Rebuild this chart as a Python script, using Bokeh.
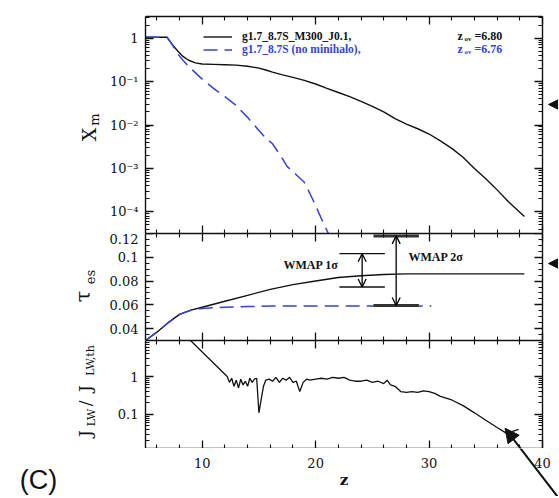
import math
from bokeh.plotting import figure
from bokeh.layouts import column, row
from bokeh.models import (Range1d, LinearAxis, LogAxis, FixedTicker, Label, Arrow,
                          NormalHead, OpenHead, Legend, LegendItem)
from bokeh.embed import file_html
from bokeh.resources import INLINE

# ---------------- data ----------------
z_xm_black = [5.0, 6.9, 7.3, 7.8, 8.3, 8.8, 9.4, 10, 11, 12, 13, 14, 15, 15.6, 16.2, 17, 18, 19,
              20, 21, 22, 23, 24, 25, 26, 27, 28, 29, 30, 31, 32, 33, 34, 35, 36, 37, 38.4]
xm_black = [1.05, 1.05, 0.75, 0.52, 0.38, 0.31, 0.27, 0.255, 0.25, 0.245, 0.24, 0.225, 0.205,
            0.185, 0.165, 0.145, 0.125, 0.107, 0.088, 0.07, 0.056, 0.045, 0.035, 0.027, 0.02,
            0.014, 0.0105, 0.0082, 0.0062, 0.0043, 0.0029, 0.0018, 0.0010, 5.8e-4, 3.2e-4,
            1.7e-4, 7.8e-5]
z_xm_blue = [5.0, 6.9, 7.3, 7.8, 8.3, 9.0, 9.9, 11, 12, 13, 14, 15, 15.6, 16.2, 17, 17.5, 18.2,
             19, 19.8, 20.5, 21.3]
xm_blue = [1.05, 1.05, 0.75, 0.45, 0.31, 0.2, 0.12, 0.07, 0.045, 0.028, 0.015, 0.0075, 0.005,
           0.0037, 0.0018, 0.0011, 7.5e-4, 4.8e-4, 1.8e-4, 7e-5, 2.5e-5]

z_tau_black = [5, 6, 7, 8, 9, 10, 12, 14, 16, 18, 20, 22, 24, 26, 28, 30, 34, 38.4]
tau_black = [0.030, 0.037, 0.045, 0.052, 0.0555, 0.058, 0.063, 0.068, 0.073, 0.077, 0.080,
             0.083, 0.0845, 0.0855, 0.086, 0.086, 0.086, 0.086]
z_tau_blue = [5, 6, 7, 8, 9, 10, 12, 14, 16, 20, 30.2]
tau_blue = [0.030, 0.037, 0.045, 0.052, 0.0555, 0.057, 0.058, 0.0585, 0.059, 0.059, 0.059]

z_jlw = [8.8, 12.2, 12.4, 12.6, 12.8, 13.0, 13.2, 13.4, 13.6, 13.8, 14.0, 14.2, 14.4, 14.6,
         14.8, 15.0, 15.2, 15.4, 15.6, 15.9, 16.2, 16.5, 16.8, 17.1, 17.4, 17.7, 18.0, 18.3,
         18.6, 18.9, 19.2, 19.5, 20, 20.5, 21, 21.5, 22, 22.5, 23, 23.5, 24, 24.5, 25, 25.5,
         26, 26.3, 26.6, 27, 27.5, 28, 28.5, 29, 29.5, 30, 30.5, 31, 32, 33, 34, 35, 36, 36.8,
         37.3, 37.9]
jlw = [10, 1.0, 0.7, 0.9, 0.55, 0.8, 0.5, 0.85, 0.6, 0.75, 0.55, 0.9, 0.7, 0.85, 0.9, 0.11,
       0.25, 0.55, 0.8, 0.85, 0.75, 0.95, 0.7, 0.9, 0.8, 0.95, 0.7, 0.75, 0.4, 0.7, 0.85, 0.8,
       0.85, 0.9, 0.85, 0.95, 0.9, 0.95, 0.8, 0.75, 0.75, 0.8, 0.7, 0.75, 0.65, 0.8, 0.6, 0.55,
       0.4, 0.38, 0.4, 0.38, 0.42, 0.4, 0.36, 0.3, 0.24, 0.17, 0.11, 0.07, 0.045, 0.032, 0.035,
       0.04]

# WMAP constraints on tau_es
wmap1_z = [22.1, 26.1]
wmap1_tau = [0.075, 0.103]
wmap1_arrow_z = 24.1
wmap2_z = [25.1, 29.1]
wmap2_tau = [0.0595, 0.118]
wmap2_arrow_z = 27.1

# pointer arrow in the lower panel: tip and tail (z, J_LW/J_LW,th)
ptr_tip = (36.7, 0.043)
ptr_tail = (43.0, 1.5e-4)

x_major = [10, 20, 30, 40]
x_minor = [6, 8, 12, 14, 16, 18, 22, 24, 26, 28, 32, 34, 36, 38]
xm_major = [1e-4, 1e-3, 1e-2, 1e-1, 1]
xm_labels = {1e-4: "10\u207b\u2074", 1e-3: "10\u207b\u00b3", 1e-2: "10\u207b\u00b2",
             1e-1: "10\u207b\u00b9", 1: "1"}
tau_major = [0.04, 0.06, 0.08, 0.1, 0.12]
tau_labels = {0.04: "0.04", 0.06: "0.06", 0.08: "0.08", 0.1: "0.1", 0.12: "0.12"}
j_major = [0.1, 1]
j_labels = {0.1: "0.1", 1: "1"}

legend_black = "g1.7_8.7S_M300_J0.1,"
legend_blue = "g1.7_8.7S (no minihalo),"
zov_black = "=6.80"
zov_blue = "=6.76"

BLUE = "#3443d4"
INK = "#111111"
SERIF = "DejaVu Serif"
LSERIF = "Liberation Serif"

def log_minors(lo, hi):
    out = []
    for e in range(lo, hi):
        for m in range(2, 10):
            out.append(m * 10.0 ** e)
    return out

xm_minor = log_minors(-5, 1)
tau_minor = [round(0.03 + 0.005 * i, 4) for i in range(19)]
j_minor = log_minors(-2, 1)

# ---------------- layout geometry (pixels) ----------------
XR = Range1d(5, 40)
FW = 397            # frame width of the three panels
BL, BR = 40, 2      # left / right borders of the panels
LEFT_W = 105        # strip for the axis titles
RIGHT_W = 14        # strip for the pointer arrows
TOP = 16
H1, H2, H3 = 217, 107, 108
BOT_H = 48
TOTAL_H = TOP + H1 + H2 + H3 + BOT_H
KX = FW / (XR.end - XR.start)   # px per unit of z


def style_axis(ax, labels, ticks):
    ax.axis_line_width = 1.4
    ax.axis_line_color = INK
    ax.major_tick_in = 8
    ax.major_tick_out = 0
    ax.minor_tick_in = 4
    ax.minor_tick_out = 0
    ax.major_tick_line_width = 1.3
    ax.minor_tick_line_width = 1.1
    ax.major_tick_line_color = INK
    ax.minor_tick_line_color = INK
    if labels:
        ax.major_label_text_font = SERIF
        ax.major_label_text_font_size = "13px"
        ax.major_label_text_color = INK
        ax.major_label_standoff = 7
    else:
        ax.major_label_overrides = {t: "" for t in ticks}
        ax.major_label_text_font_size = "1px"
        ax.major_label_standoff = -6


def make_fig(yr, ytype, fh, bt, yticks, yminor, overrides):
    p = figure(frame_width=FW, frame_height=fh, x_range=XR, y_range=yr, y_axis_type=ytype,
               x_axis_location=None, y_axis_location=None, output_backend="svg",
               toolbar_location=None, min_border_left=BL, min_border_right=BR,
               min_border_top=bt, min_border_bottom=0)
    p.xgrid.visible = False
    p.ygrid.visible = False
    p.outline_line_color = None
    AxisY = LogAxis if ytype == "log" else LinearAxis
    for loc in ("below", "above"):
        ax = LinearAxis(ticker=FixedTicker(ticks=x_major, minor_ticks=x_minor))
        style_axis(ax, False, x_major)
        p.add_layout(ax, loc)
    for loc in ("left", "right"):
        ax = AxisY(ticker=FixedTicker(ticks=yticks, minor_ticks=yminor))
        style_axis(ax, loc == "left", yticks)
        if loc == "left":
            ax.major_label_overrides = overrides
        p.add_layout(ax, loc)
    return p


def lab(p, text, x, y, size, dx=0, dy=0, angle=0, color=INK, font=SERIF, style="normal",
        align="center"):
    p.add_layout(Label(x=x, y=y, x_offset=dx, y_offset=dy, text=text, angle=angle,
                       angle_units="deg", text_font=font, text_font_size=size,
                       text_font_style=style, text_color=color, text_align=align,
                       text_baseline="middle"))


def strip(w, h, xr=None):
    # blank figure whose frame fills it; y counts pixels downward from its top
    s = figure(width=w, height=h, x_range=xr or Range1d(0, w), y_range=Range1d(h, 0),
               output_backend="svg", toolbar_location=None, min_border=0,
               x_axis_location=None, y_axis_location=None)
    s.xgrid.visible = False
    s.ygrid.visible = False
    s.outline_line_color = None
    return s

# ---------------- top panel: x_m ----------------
p1 = make_fig(Range1d(10 ** -4.5, 10 ** 0.5), "log", H1, TOP, xm_major, xm_minor, xm_labels)
r_blk = p1.line(z_xm_black, xm_black, line_color=INK, line_width=1.4)
r_blu = p1.line(z_xm_blue, xm_blue, line_color=BLUE, line_width=1.5, line_dash="14 7")

for items, color, ybot in (([LegendItem(label=legend_black, renderers=[r_blk])], INK, 190.5),
                           ([LegendItem(label=legend_blue, renderers=[r_blu])], BLUE, 177.5)):
    lg = Legend(items=items, location=(58, ybot), background_fill_alpha=0,
                border_line_color=None, padding=0, margin=0, glyph_width=29, glyph_height=13,
                label_standoff=10, label_height=13, spacing=0, label_text_font=LSERIF,
                label_text_font_style="bold", label_text_font_size="11.5px",
                label_text_color=color)
    p1.add_layout(lg)

for dy, color, txt in ((2, INK, zov_black), (-11, BLUE, zov_blue)):
    lab(p1, "z", 5, 1, "12px", dx=312, dy=dy, color=color, font=LSERIF, style="bold", align="left")
    lab(p1, "ov", 5, 1, "7px", dx=319, dy=dy - 3, color=color, font=LSERIF, style="bold",
        align="left")
    lab(p1, txt, 5, 1, "12px", dx=329, dy=dy, color=color, font=LSERIF, style="bold",
        align="left")

# ---------------- middle panel: tau_es ----------------
p2 = make_fig(Range1d(0.03, 0.12), "linear", H2, 0, tau_major, tau_minor, tau_labels)
p2.line(z_tau_black, tau_black, line_color=INK, line_width=1.4)
p2.line(z_tau_blue, tau_blue, line_color=BLUE, line_width=1.5, line_dash="14 7")

for t in wmap1_tau:
    p2.line(wmap1_z, [t, t], line_color=INK, line_width=1.3)
for t in wmap2_tau:
    p2.line(wmap2_z, [t, t], line_color="#333333", line_width=3)
for az, (t0, t1) in ((wmap1_arrow_z, wmap1_tau), (wmap2_arrow_z, wmap2_tau)):
    p2.add_layout(Arrow(start=OpenHead(size=8, line_width=1.3), end=OpenHead(size=8, line_width=1.3),
                        x_start=az, y_start=t0, x_end=az, y_end=t1, line_width=1.3))
lab(p2, "WMAP 1\u03c3", 5, 0.08, "12px", dx=138, dy=15.6, font=LSERIF, style="bold", align="left")
lab(p2, "WMAP 2\u03c3", 5, 0.08, "12px", dx=263, dy=23.6, font=LSERIF, style="bold", align="left")

# ---------------- bottom panel: J_LW / J_LW,th ----------------
J_LO, J_HI = -1.9, 0.95
p3 = make_fig(Range1d(10 ** J_LO, 10 ** J_HI), "log", H3, 0, j_major, j_minor, j_labels)
p3.line(z_jlw, jlw, line_color=INK, line_width=1.3)
p3.add_layout(Arrow(end=NormalHead(size=14, fill_color=INK, line_color=INK),
                    x_start=ptr_tail[0], y_start=ptr_tail[1], x_end=ptr_tip[0], y_end=ptr_tip[1],
                    line_width=2, line_color=INK))

# ---------------- strip under the panels: z tick labels, axis title, arrow tail ----------------
bot_w = BL + FW + BR + RIGHT_W
pb = strip(bot_w, BOT_H, xr=Range1d(XR.start - BL / KX, XR.start + (bot_w - BL) / KX))
for t in x_major:
    lab(pb, str(t), t, 14, "13px")
lab(pb, "z", (XR.start + XR.end) / 2, 31, "15px", style="bold")


def below_rows(v):
    # rows below the bottom panel's lower edge for a value of the bottom panel
    return (J_HI - math.log10(v)) / (J_HI - J_LO) * H3 - H3

pb.line([ptr_tip[0], ptr_tail[0]], [below_rows(ptr_tip[1]), below_rows(ptr_tail[1])],
        line_color=INK, line_width=2)

# ---------------- left strip: axis titles and panel tag ----------------
pl = strip(LEFT_W, TOTAL_H)
lab(pl, "X", 88, 134, "19px", angle=90)
lab(pl, "m", 94, 119, "13px", angle=90)
lab(pl, "\u03c4", 82.5, 296, "21px", angle=90)
lab(pl, "es", 90, 276.5, "13px", angle=90)
lab(pl, "J", 84, 433, "17px", angle=90)
lab(pl, "LW", 91, 417, "11px", angle=90)
lab(pl, "/", 84, 403, "17px", angle=90)
lab(pl, "J", 84, 388, "17px", angle=90)
lab(pl, "LW,th", 90, 360, "11px", angle=90)
lab(pl, "(C)", 38, 479, "27px", font="Liberation Sans")

# ---------------- right strip: pointer arrows ----------------
pr = strip(RIGHT_W, TOP + H1 + H2 + H3)
for yy in (104, 263):
    pr.add_layout(Arrow(end=NormalHead(size=12, fill_color=INK, line_color=INK),
                        x_start=22, y_start=yy, x_end=4, y_end=yy, line_width=2,
                        line_color=INK))

panels = column(p1, p2, p3, spacing=0)
layout = row(pl, column(row(panels, pr, spacing=0), pb, spacing=0), spacing=0)
open("out.html", "w").write(file_html(layout, INLINE))
